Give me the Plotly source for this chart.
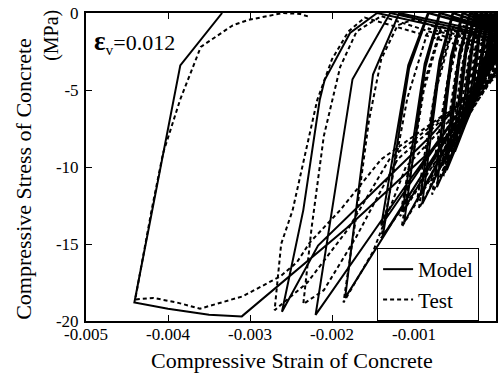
import plotly.graph_objects as go

# Model (solid) path: strain, stress (points beyond 0 strain are clipped by the axis)
model_strain = [
    0.00000, -0.00010, -0.00004, -0.00001,
    0.00002, -0.00012, -0.00005, -0.00002,
    0.00003, -0.00020, -0.00012, -0.00006,
    0.00004, -0.00022, -0.00013, -0.00007,
    0.00005, -0.00030, -0.00020, -0.00012,
    0.00006, -0.00032, -0.00021, -0.00013,
    0.00007, -0.00040, -0.00028, -0.00018,
    0.00008, -0.00042, -0.00029, -0.00019,
    0.00009, -0.00050, -0.00036, -0.00025,
    0.00010, -0.00052, -0.00037, -0.00026,
    0.00011, -0.00060, -0.00044, -0.00031,
    0.00012, -0.00062, -0.00045, -0.00032,
    0.00013, -0.00072, -0.00054, -0.00040,
    0.00014, -0.00074, -0.00055, -0.00041,
    0.00015, -0.00090, -0.00068, -0.00052,
    0.00016, -0.00092, -0.00069, -0.00053,
    0.00017, -0.00112, -0.00086, -0.00068,
    0.00018, -0.00114, -0.00087, -0.00069,
    0.00019, -0.00138, -0.00106, -0.00082,
    0.00020, -0.00140, -0.00107, -0.00083,
    0.00020, -0.00090, -0.00184, -0.00150, -0.00118,
    0.00020, -0.00110, -0.00220, -0.00175, -0.00129,
    0.00022, -0.00080, -0.00217, -0.00261, -0.00235, -0.00215, -0.00209, -0.00178, -0.00145,
    0.00025, -0.00050, -0.00182, -0.00310, -0.00350, -0.00400, -0.00441, -0.00385, -0.00334]
model_stress = [
    0.0, -2.4, -0.6, 0,
    -0.3, -2.2, -0.5, 0,
    -0.4, -4.3, -1.2, 0,
    -0.5, -4.0, -1.0, 0,
    -0.5, -6.0, -1.6, 0,
    -0.6, -5.6, -1.4, 0,
    -0.7, -7.6, -2.0, 0,
    -0.8, -7.0, -1.8, 0,
    -0.9, -9.0, -2.5, 0,
    -0.9, -8.4, -2.2, 0,
    -1.0, -10.2, -2.8, 0,
    -1.0, -9.6, -2.6, 0,
    -1.1, -11.3, -3.0, 0,
    -1.1, -10.6, -2.8, 0,
    -1.2, -12.4, -3.3, 0,
    -1.2, -11.8, -3.1, 0,
    -1.3, -13.6, -3.5, 0,
    -1.3, -12.9, -3.3, 0,
    -1.4, -14.5, -3.6, 0,
    -1.4, -13.8, -3.4, 0,
    -1.5, -10.5, -18.5, -4.0, 0,
    -1.6, -11.2, -19.6, -4.3, 0,
    -1.8, -8.0, -15.1, -19.4, -12.8, -5.65, -4.35, -1.3, 0,
    -2.0, -7.5, -13.96, -19.7, -19.6, -19.2, -18.8, -3.4, 0]

# Test (dashed) path
test_strain = [
    0.00003, -0.00004, -0.00012, -0.00007, -0.00003,
    0.00004, -0.00006, -0.00014, -0.00008, -0.00004,
    0.00004, -0.00010, -0.00024, -0.00016, -0.00009,
    0.00005, -0.00011, -0.00026, -0.00017, -0.00010,
    0.00006, -0.00016, -0.00034, -0.00024, -0.00015,
    0.00007, -0.00017, -0.00036, -0.00025, -0.00016,
    0.00008, -0.00022, -0.00044, -0.00032, -0.00021,
    0.00009, -0.00023, -0.00046, -0.00033, -0.00022,
    0.00010, -0.00028, -0.00054, -0.00040, -0.00027,
    0.00011, -0.00029, -0.00056, -0.00041, -0.00028,
    0.00012, -0.00034, -0.00064, -0.00048, -0.00034,
    0.00013, -0.00035, -0.00066, -0.00049, -0.00035,
    0.00014, -0.00042, -0.00078, -0.00058, -0.00042,
    0.00015, -0.00043, -0.00080, -0.00059, -0.00043,
    0.00016, -0.00050, -0.00094, -0.00072, -0.00052,
    0.00017, -0.00051, -0.00096, -0.00073, -0.00053,
    0.00018, -0.00060, -0.00115, -0.00088, -0.00066,
    0.00019, -0.00061, -0.00117, -0.00089, -0.00067,
    0.00020, -0.00070, -0.00140, -0.00108, -0.00082,
    0.00020, -0.00110, -0.00150, -0.00186, -0.00170, -0.00155, -0.00140, -0.00120, -0.00100,
    0.00022, -0.00120, -0.00170, -0.00210, -0.00235, -0.00225, -0.00210, -0.00190, -0.00170, -0.00140,
    0.00024, -0.00130, -0.00180, -0.00230, -0.00270, -0.00262, -0.00248, -0.00218, -0.00200, -0.00180, -0.00160,
    0.00026, -0.00140, -0.00190, -0.00227, -0.00243, -0.00263, -0.00309, -0.00361, -0.00389, -0.00418, -0.00440,
    -0.00420, -0.00406, -0.00385, -0.00360, -0.00321, -0.00302, -0.00260, -0.00239, -0.00227]
test_stress = [
    -0.5, -1.2, -2.8, -1.0, -0.2,
    -0.6, -1.3, -2.6, -0.9, -0.2,
    -0.8, -2.6, -4.8, -2.0, -0.3,
    -0.8, -2.5, -4.5, -1.8, -0.3,
    -1.0, -3.6, -6.3, -2.4, -0.4,
    -1.0, -3.4, -5.9, -2.2, -0.4,
    -1.2, -4.6, -7.9, -3.0, -0.5,
    -1.2, -4.4, -7.4, -2.8, -0.5,
    -1.4, -5.6, -9.3, -3.5, -0.6,
    -1.4, -5.3, -8.7, -3.3, -0.6,
    -1.6, -6.4, -10.6, -4.0, -0.7,
    -1.6, -6.1, -10.0, -3.8, -0.7,
    -1.8, -7.4, -11.8, -4.5, -0.8,
    -1.8, -7.0, -11.2, -4.3, -0.8,
    -2.0, -8.2, -12.7, -4.8, -0.9,
    -2.0, -7.8, -12.1, -4.6, -0.9,
    -2.2, -9.0, -13.9, -5.0, -0.9,
    -2.2, -8.6, -13.2, -4.8, -0.9,
    -2.4, -9.4, -14.6, -5.5, -1.0,
    -2.6, -10.0, -15.5, -18.8, -13.0, -7.0, -3.0, -0.8, -0.4,
    -2.8, -9.5, -14.5, -18.0, -18.9, -14.0, -8.0, -3.5, -1.2, -0.2,
    -3.0, -9.5, -14.0, -17.5, -19.3, -15.0, -12.8, -5.65, -3.0, -1.2, -0.3,
    -3.2, -9.5, -12.8, -14.9, -16.2, -17.1, -18.4, -19.2, -18.8, -18.5, -18.6,
    -12.8, -9.1, -5.6, -2.2, -0.8, -0.45, 0, -0.06, -0.26]

x_ticks = [-0.005, -0.004, -0.003, -0.002, -0.001, 0]
x_labels = ["-0.005", "-0.004", "-0.003", "-0.002", "-0.001", "0"]
y_ticks = [-20, -15, -10, -5, 0]
y_labels = ["-20", "-15", "-10", "-5", "0"]

FONT = "Liberation Serif, Times New Roman, serif"

fig = go.Figure()
fig.add_trace(go.Scatter(x=model_strain, y=model_stress, mode="lines", name="Model",
                         line=dict(color="black", width=2)))
fig.add_trace(go.Scatter(x=test_strain, y=test_stress, mode="lines", name="Test",
                         line=dict(color="black", width=2, dash="4px,3px")))

axis_common = dict(ticks="inside", ticklen=6, tickcolor="black", tickwidth=1,
                   showline=True, linecolor="black", linewidth=2, mirror="ticks",
                   showgrid=False, zeroline=False, automargin=False,
                   tickfont=dict(family=FONT, size=17))

fig.update_layout(
    width=500, height=374,
    margin=dict(l=86, r=4, t=13, b=53, autoexpand=False),
    paper_bgcolor="white", plot_bgcolor="white",
    font=dict(family=FONT, color="black", size=17),
    showlegend=True,
    legend=dict(x=0.71, y=0.0, xanchor="left", yanchor="bottom",
                bgcolor="white", bordercolor="black", borderwidth=1,
                font=dict(family=FONT, size=21), tracegroupgap=0, itemwidth=30),
    xaxis=dict(range=[-0.005, 0], tickvals=x_ticks, ticktext=x_labels,
               ticklabelstandoff=-3, **axis_common),
    yaxis=dict(range=[-20, 0], tickvals=y_ticks, ticktext=y_labels,
               ticklabelstandoff=2, **axis_common),
    annotations=[
        dict(text="<span style='font-size:27px'><b>ε</b></span><sub>v</sub>=0.012",
             xref="paper", yref="paper",
             x=0.015, y=0.905, xanchor="left", yanchor="middle", showarrow=False,
             font=dict(family=FONT, size=22)),
        dict(text="Compressive Strain of Concrete", xref="paper", yref="paper",
             x=0.502, y=-0.128, xanchor="center", yanchor="middle", showarrow=False,
             font=dict(family=FONT, size=22)),
        dict(text="Compressive Stress of Concrete", xref="paper", yref="paper",
             x=-0.154, y=0.461, xanchor="center", yanchor="middle", showarrow=False,
             textangle=-90, font=dict(family=FONT, size=22)),
        dict(text="(MPa)", xref="paper", yref="paper",
             x=-0.083, y=0.929, xanchor="center", yanchor="middle", showarrow=False,
             textangle=-90, font=dict(family=FONT, size=20)),
    ],
)

fig.write_html("out.html", config={"displayModeBar": False},
               post_script="document.body.style.margin='0';document.body.style.padding='0';")
